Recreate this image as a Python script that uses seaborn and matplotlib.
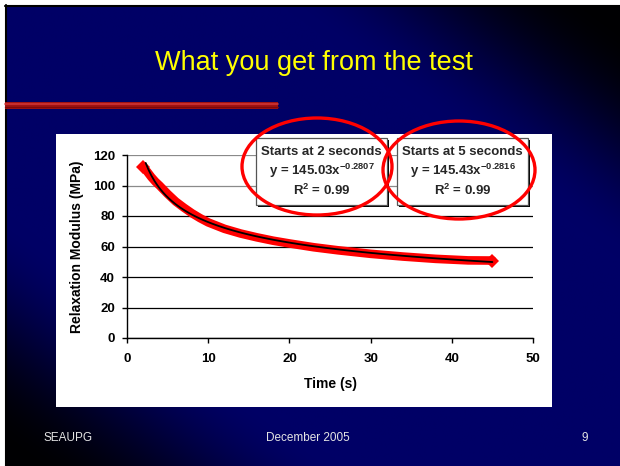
import numpy as np
import matplotlib
matplotlib.use('Agg')
import matplotlib.pyplot as plt
from matplotlib.patches import Rectangle, Ellipse
import seaborn as sns

# relaxation test data
time_s = [2.0, 2.5, 3.0, 3.5, 4.0, 5.0, 6.0, 7.0, 8.0, 9.0, 10.0, 12.0, 14.0,
          16.0, 18.0, 20.0, 23.0, 26.0, 30.0, 34.0, 38.0, 42.0, 45.0]
modulus = [112.0, 109.0, 105.5, 102.5, 100.0, 94.5, 89.5, 85.5, 81.8, 78.6, 75.8,
           71.6, 68.5, 66.0, 63.8, 62.0, 59.5, 57.5, 55.2, 53.4, 51.9, 50.9, 50.8]

# power-law trendline constants, as printed in the boxes
fit_2s = (145.03, -0.2807)
fit_5s = (145.43, -0.2816)
r2 = 0.99
trend_start, trend_end = 2.3, 45.0

x_ticks = [0, 10, 20, 30, 40, 50]
y_ticks = [0, 20, 40, 60, 80, 100, 120]

sns.set_style('ticks')
plt.rcParams['font.family'] = ['Liberation Sans', 'DejaVu Sans']
plt.rcParams['mathtext.fontset'] = 'custom'
plt.rcParams['mathtext.rm'] = 'Liberation Sans'
plt.rcParams['mathtext.bf'] = 'Liberation Sans:bold'

W, H = 620, 466
fig = plt.figure(figsize=(W / 100, H / 100), dpi=100, facecolor='white')

#%% slide background
bg = fig.add_axes([0, 0, 1, 1])
bg.set_xlim(0, W)
bg.set_ylim(H, 0)
bg.axis('off')
yy, xx = np.mgrid[0:H, 0:W]
d = np.abs(xx / W - yy / H)
t = np.clip((d - 0.45) / 0.5, 0, 1)
t = t * t * (3 - 2 * t)
blue = np.array([0.0, 0.0, 0.40])
dark = np.array([0.0, 0.0, 0.01])
img = blue * (1 - t[..., None]) + dark * t[..., None]
bg.imshow(img, extent=(5, W, H, 5), aspect='auto', zorder=0)
bg.plot([5.5, 5.5], [5, H], color='black', lw=1.5, zorder=1)
bg.plot([5, W], [5.5, 5.5], color='black', lw=1.5, zorder=1)

bg.text(314, 63, 'What you get from the test', color='#FFFF00', fontsize=19.5,
        ha='center', va='center', zorder=2)
bg.add_patch(Rectangle((5, 101.5), 273, 7.5, color='#A01212', lw=0, zorder=2))
bg.plot([5, 278], [104, 104], color='#D03434', lw=1.2, zorder=3)
bg.plot([5, 278], [106.8, 106.8], color='#7E0808', lw=1.0, zorder=3)

footer_color = '#E4E4E4'
bg.text(43, 438, 'SEAUPG', color=footer_color, fontsize=8.5, ha='left', va='center')
bg.text(308, 438, 'December 2005', color=footer_color, fontsize=8.5, ha='center', va='center')
bg.text(585, 438, '9', color=footer_color, fontsize=8.5, ha='center', va='center')

bg.add_patch(Rectangle((56, 134), 496, 273, facecolor='white', lw=0, zorder=4))

#%% chart
ax = fig.add_axes([127 / W, 1 - 338 / H, 406 / W, 183 / H], zorder=2)
ax.set_facecolor('none')
sns.lineplot(x=time_s, y=modulus, ax=ax, color='red', lw=6.2, marker='D',
             markersize=7.5, markeredgewidth=0, markevery=[0, len(time_s) - 1],
             sort=False, zorder=3)
trend_t = np.linspace(trend_start, trend_end, 120)
sns.lineplot(x=trend_t, y=fit_2s[0] * trend_t ** fit_2s[1], ax=ax, color='black',
             lw=1.3, sort=False, zorder=4)

ax.set_xlim(0, 50)
ax.set_ylim(0, 120)
ax.set_xticks(x_ticks)
ax.set_yticks(y_ticks)
ax.grid(axis='y', color='black', lw=0.9)
ax.grid(axis='x', visible=False)
for gl in ax.yaxis.get_gridlines()[-2:]:
    gl.set_color('#8A8A8A')
ax.set_axisbelow(True)
for side in ['top', 'right']:
    ax.spines[side].set_visible(False)
for side in ['left', 'bottom']:
    ax.spines[side].set_color('black')
    ax.spines[side].set_linewidth(1.0)
ax.tick_params(axis='both', direction='out', length=3.6, width=1, color='black',
               labelsize=9.5, labelcolor='black')
ax.tick_params(axis='x', pad=7.5)
ax.tick_params(axis='y', pad=5)
for lbl in ax.get_xticklabels() + ax.get_yticklabels():
    lbl.set_fontweight('bold')

ax.set_xlabel('Time (s)', fontsize=10, fontweight='bold', color='black')
ax.set_ylabel('Relaxation Modulus (MPa)', fontsize=10, fontweight='bold', color='black')
ax.xaxis.set_label_coords(0.5, -0.215)
ax.yaxis.set_label_coords(-0.105, 0.5)

#%% fit boxes and circles
ov = fig.add_axes([0, 0, 1, 1], zorder=5)
ov.set_xlim(0, W)
ov.set_ylim(H, 0)
ov.axis('off')
ov.set_facecolor('none')


def fit_box(x0, label, fit):
    w, h = 131, 67
    ov.add_patch(Rectangle((x0 + 2, 140), w, h, facecolor='black', lw=0))
    ov.add_patch(Rectangle((x0, 138), w, h, facecolor='white', edgecolor='#555555', lw=0.9))
    cx = x0 + w / 2
    ov.text(cx, 152, label, fontsize=9.5, fontweight='bold', ha='center', va='center')
    ov.text(cx, 171, f'y = {fit[0]:.2f}x' + r'$^{\mathbf{' + f'{fit[1]:.4f}' + r'}}$',
            fontsize=9.5, fontweight='bold', ha='center', va='center')
    ov.text(cx, 190, r'R$^{\mathbf{2}}$' + f' = {r2:.2f}', fontsize=9.5,
            fontweight='bold', ha='center', va='center')


fit_box(256, 'Starts at 2 seconds', fit_2s)
fit_box(397, 'Starts at 5 seconds', fit_5s)

ov.add_patch(Ellipse((317, 166.5), 150, 97, fill=False, edgecolor='#FF0000', lw=2.4))
ov.add_patch(Ellipse((459, 170), 152, 98, fill=False, edgecolor='#FF0000', lw=2.4))

fig.savefig('out.png', dpi=100, facecolor='white')
